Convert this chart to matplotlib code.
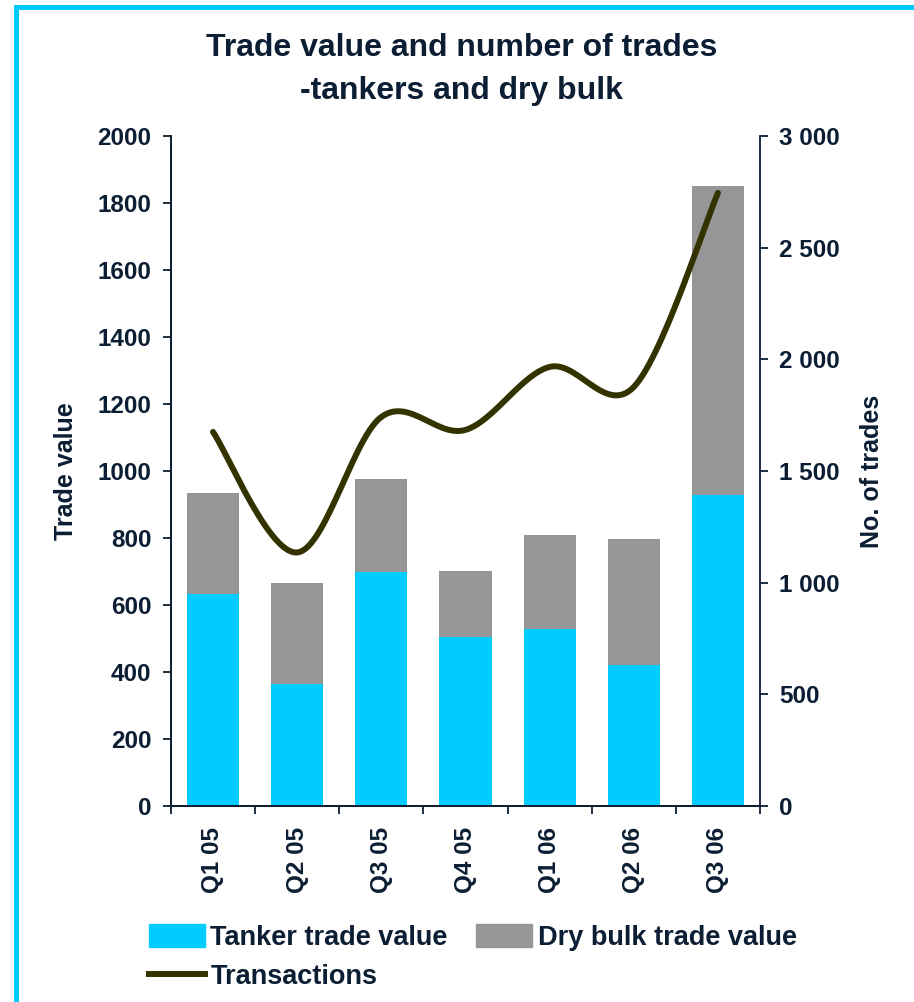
import numpy as np
import matplotlib.pyplot as plt
from matplotlib.patches import Rectangle, Patch
from matplotlib.lines import Line2D

plt.rcParams['font.family'] = ['Liberation Sans', 'DejaVu Sans']
plt.rcParams['font.weight'] = 'bold'

# data
quarters = ['Q1 05', 'Q2 05', 'Q3 05', 'Q4 05', 'Q1 06', 'Q2 06', 'Q3 06']
tanker = [633, 364, 699, 504, 528, 421, 928]
dry_bulk = [301, 302, 277, 197, 281, 376, 923]
transactions = [1675, 1135, 1742, 1684, 1966, 1876, 2745]
left_ticks = [0, 200, 400, 600, 800, 1000, 1200, 1400, 1600, 1800, 2000]
right_ticks = [0, 500, 1000, 1500, 2000, 2500, 3000]

txt = '#0c1e33'
cyan = '#00ccff'
grey = '#969696'
olive = '#333300'


def smooth(x, y, n=30):
    # bezier smoothing through the points, similar to spreadsheet "smoothed line"
    x = np.asarray(x, float)
    y = np.asarray(y, float)
    px = np.concatenate([[x[0]], x, [x[-1]]])
    py = np.concatenate([[y[0]], y, [y[-1]]])
    xs, ys = [], []
    t = np.linspace(0, 1, n)
    for i in range(1, len(px) - 2):
        p0 = np.array([px[i], py[i]])
        p3 = np.array([px[i + 1], py[i + 1]])
        p1 = p0 + (np.array([px[i + 1], py[i + 1]]) - np.array([px[i - 1], py[i - 1]])) / 6
        p2 = p3 - (np.array([px[i + 2], py[i + 2]]) - np.array([px[i], py[i]])) / 6
        b = ((1 - t) ** 3)[:, None] * p0 + (3 * (1 - t) ** 2 * t)[:, None] * p1 \
            + (3 * (1 - t) * t ** 2)[:, None] * p2 + (t ** 3)[:, None] * p3
        xs.extend(b[:, 0])
        ys.extend(b[:, 1])
    return np.array(xs), np.array(ys)


fig = plt.figure(figsize=(9.14, 10.02), dpi=100)
ax = fig.add_axes([0.187, 0.1956, 0.6445, 0.6687])

x = np.arange(len(quarters))
ax.bar(x, tanker, width=0.62, color=cyan, zorder=2)
ax.bar(x, dry_bulk, width=0.62, bottom=tanker, color=grey, zorder=2)
ax.set_xlim(-0.5, len(quarters) - 0.5)
ax.set_ylim(0, 2000)
ax.set_yticks(left_ticks)

ax2 = ax.twinx()
sx, sy = smooth(x, transactions)
ax2.plot(sx, sy, color=olive, lw=4.3, solid_capstyle='round')
ax2.set_ylim(0, 3000)
ax2.set_yticks(right_ticks)
ax2.set_yticklabels([f'{v:,}'.replace(',', ' ') for v in right_ticks])

for a in (ax, ax2):
    for s in a.spines.values():
        s.set_color(txt)
        s.set_linewidth(1.3)
    a.spines['top'].set_visible(False)
    a.tick_params(axis='y', colors=txt, labelsize=17.5, length=6, width=1.3, pad=8)
ax.spines['right'].set_visible(False)

# category boundaries carry the ticks, labels sit at the centres
ax.set_xticks(np.arange(-0.5, len(quarters)), minor=False)
ax.set_xticklabels([])
ax.set_xticks(x, minor=True)
ax.set_xticklabels(quarters, minor=True, rotation=90)
ax.tick_params(axis='x', which='major', length=6, width=1.3, colors=txt)
ax.tick_params(axis='x', which='minor', length=0, pad=15, labelsize=17.5, labelcolor=txt)

ax.set_ylabel('Trade value', fontsize=18, color=txt, fontweight='bold', labelpad=14)
ax2.set_ylabel('No. of trades', fontsize=18, color=txt, fontweight='bold', labelpad=14)

fig.text(0.505, 0.952, 'Trade value and number of trades', ha='center', va='center',
         fontsize=23, color=txt)
fig.text(0.505, 0.909, '-tankers and dry bulk', ha='center', va='center',
         fontsize=23, color=txt)

handles = [Patch(color=cyan, label='Tanker trade value'),
           Line2D([], [], color=olive, lw=4.3, label='Transactions'),
           Patch(color=grey, label='Dry bulk trade value')]
leg = fig.legend(handles=handles, ncol=2, loc='upper left',
                 bbox_to_anchor=(149 / 914, 1 - 924 / 1002), frameon=False,
                 fontsize=19.5, handlelength=2.05, handleheight=0.95, handletextpad=0.22,
                 columnspacing=1.05, labelspacing=0.45, borderpad=0, borderaxespad=0)
for t in leg.get_texts():
    t.set_color(txt)

# cyan frame, cut off at right and bottom like the original
fig.patches.append(Rectangle((15.5 / 914, -0.1), 1.2, 1.1 - 7.5 / 1002,
                             transform=fig.transFigure, fill=False,
                             edgecolor=cyan, lw=3.6))

fig.savefig('out.png', dpi=100)
